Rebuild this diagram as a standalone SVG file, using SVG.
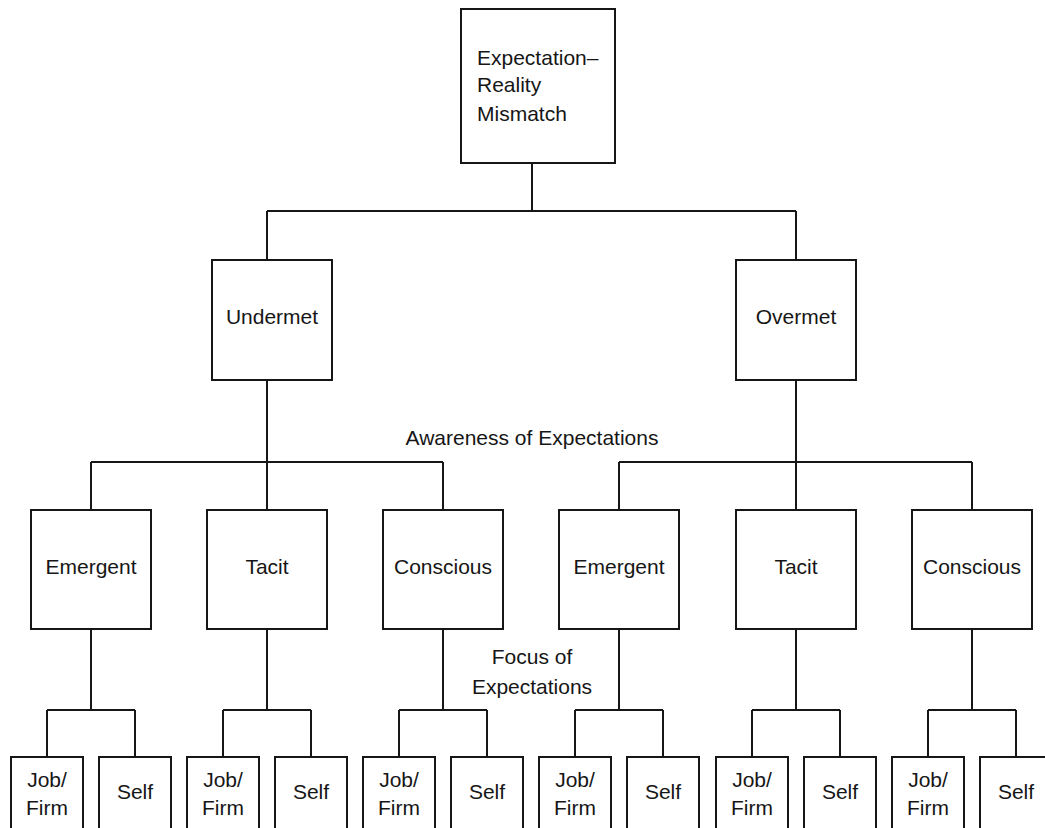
<svg xmlns="http://www.w3.org/2000/svg" width="1045" height="828" viewBox="0 0 1045 828">
  <style>
    .box { fill: #ffffff; stroke: #161616; stroke-width: 2; }
    .wire { fill: none; stroke: #161616; stroke-width: 2; }
    text { font-family: "Liberation Sans", Arial, sans-serif; font-size: 21px; fill: #161616; }
    .c { text-anchor: middle; }
  </style>
  <rect width="1045" height="828" fill="#ffffff"/>

  <!-- tree connectors -->
  <g id="connectors" class="wire">
    <!-- root to outcome level -->
    <path d="M532 163 V211 M267 211 H796 M267 211 V260 M796 211 V260"/>
    <!-- Undermet to awareness level -->
    <path d="M267 380 V510 M91 462 H443 M91 462 V510 M443 462 V510"/>
    <!-- Overmet to awareness level -->
    <path d="M796 380 V510 M619 462 H972 M619 462 V510 M972 462 V510"/>
    <!-- awareness to focus level -->
    <path d="M91 629 V710 M47 710 H135 M47 710 V757 M135 710 V757"/>
    <path d="M267 629 V710 M223 710 H311 M223 710 V757 M311 710 V757"/>
    <path d="M443 629 V710 M399 710 H487 M399 710 V757 M487 710 V757"/>
    <path d="M619 629 V710 M575 710 H663 M575 710 V757 M663 710 V757"/>
    <path d="M796 629 V710 M752 710 H840 M752 710 V757 M840 710 V757"/>
    <path d="M972 629 V710 M928 710 H1016 M928 710 V757 M1016 710 V757"/>
  </g>

  <!-- level labels -->
  <g id="level-labels">
    <text class="c" x="532" y="445">Awareness of Expectations</text>
    <text class="c" x="532" y="664">Focus of</text>
    <text class="c" x="532" y="694">Expectations</text>
  </g>

  <!-- root -->
  <g id="mismatch">
    <rect class="box" x="461" y="9" width="154" height="154"/>
    <text x="477" y="65">Expectation–</text>
    <text x="477" y="92">Reality</text>
    <text x="477" y="121">Mismatch</text>
  </g>

  <!-- outcome level -->
  <g id="undermet">
    <rect class="box" x="212" y="260" width="120" height="120"/>
    <text class="c" x="272" y="324">Undermet</text>
  </g>
  <g id="overmet">
    <rect class="box" x="736" y="260" width="120" height="120"/>
    <text class="c" x="796" y="324">Overmet</text>
  </g>

  <!-- awareness level -->
  <g id="under-emergent">
    <rect class="box" x="31" y="510" width="120" height="119"/>
    <text class="c" x="91" y="574">Emergent</text>
  </g>
  <g id="under-tacit">
    <rect class="box" x="207" y="510" width="120" height="119"/>
    <text class="c" x="267" y="574">Tacit</text>
  </g>
  <g id="under-conscious">
    <rect class="box" x="383" y="510" width="120" height="119"/>
    <text class="c" x="443" y="574">Conscious</text>
  </g>
  <g id="over-emergent">
    <rect class="box" x="559" y="510" width="120" height="119"/>
    <text class="c" x="619" y="574">Emergent</text>
  </g>
  <g id="over-tacit">
    <rect class="box" x="736" y="510" width="120" height="119"/>
    <text class="c" x="796" y="574">Tacit</text>
  </g>
  <g id="over-conscious">
    <rect class="box" x="912" y="510" width="120" height="119"/>
    <text class="c" x="972" y="574">Conscious</text>
  </g>

  <!-- focus level (boxes run past the lower edge) -->
  <g id="under-emergent-job">
    <rect class="box" x="11" y="757" width="72" height="90"/>
    <text class="c" x="47" y="787">Job/</text>
    <text class="c" x="47" y="815">Firm</text>
  </g>
  <g id="under-emergent-self">
    <rect class="box" x="99" y="757" width="72" height="90"/>
    <text class="c" x="135" y="799">Self</text>
  </g>
  <g id="under-tacit-job">
    <rect class="box" x="187" y="757" width="72" height="90"/>
    <text class="c" x="223" y="787">Job/</text>
    <text class="c" x="223" y="815">Firm</text>
  </g>
  <g id="under-tacit-self">
    <rect class="box" x="275" y="757" width="72" height="90"/>
    <text class="c" x="311" y="799">Self</text>
  </g>
  <g id="under-conscious-job">
    <rect class="box" x="363" y="757" width="72" height="90"/>
    <text class="c" x="399" y="787">Job/</text>
    <text class="c" x="399" y="815">Firm</text>
  </g>
  <g id="under-conscious-self">
    <rect class="box" x="451" y="757" width="72" height="90"/>
    <text class="c" x="487" y="799">Self</text>
  </g>
  <g id="over-emergent-job">
    <rect class="box" x="539" y="757" width="72" height="90"/>
    <text class="c" x="575" y="787">Job/</text>
    <text class="c" x="575" y="815">Firm</text>
  </g>
  <g id="over-emergent-self">
    <rect class="box" x="627" y="757" width="72" height="90"/>
    <text class="c" x="663" y="799">Self</text>
  </g>
  <g id="over-tacit-job">
    <rect class="box" x="716" y="757" width="72" height="90"/>
    <text class="c" x="752" y="787">Job/</text>
    <text class="c" x="752" y="815">Firm</text>
  </g>
  <g id="over-tacit-self">
    <rect class="box" x="804" y="757" width="72" height="90"/>
    <text class="c" x="840" y="799">Self</text>
  </g>
  <g id="over-conscious-job">
    <rect class="box" x="892" y="757" width="72" height="90"/>
    <text class="c" x="928" y="787">Job/</text>
    <text class="c" x="928" y="815">Firm</text>
  </g>
  <g id="over-conscious-self">
    <rect class="box" x="980" y="757" width="72" height="90"/>
    <text class="c" x="1016" y="799">Self</text>
  </g>
</svg>
